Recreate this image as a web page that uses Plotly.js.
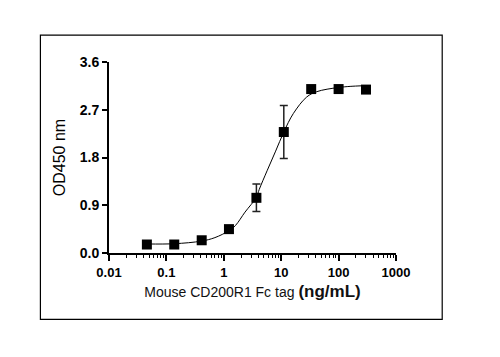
<!DOCTYPE html>
<html>
<head>
<meta charset="utf-8">
<script src="https://cdn.plot.ly/plotly-3.0.1.min.js"></script>
<style>
html,body{margin:0;padding:0;background:#fff;}
#chart{width:500px;height:357px;}
</style>
</head>
<body>
<div id="chart"></div>
<script>
// Measured points (concentration in ng/mL, OD450)
const conc = [0.0457, 0.137, 0.412, 1.23, 3.70, 11.1, 33.3, 100, 300];
const od = [0.16, 0.16, 0.24, 0.45, 1.04, 2.28, 3.09, 3.09, 3.08];
const odErr = [0, 0, 0, 0, 0.26, 0.50, 0, 0, 0];

// Fitted curve
const curveX = [0.0457, 0.137, 0.412, 0.7, 1.23, 1.6, 2.34, 3.7, 4.15, 5.73, 8, 11.1, 16.3, 27.8, 41.5, 100, 236, 300];
const curveY = [0.17, 0.175, 0.225, 0.29, 0.42, 0.52, 0.77, 1.05, 1.2, 1.56, 1.92, 2.28, 2.63, 2.94, 3.04, 3.12, 3.15, 3.15];

const yTicks = [0, 0.9, 1.8, 2.7, 3.6];
const yTickText = ['0.0', '0.9', '1.8', '2.7', '3.6'];
const xTicks = [0.01, 0.1, 1, 10, 100, 1000];
const xTickText = ['0.01', '0.1', '1', '10', '100', '1000'];

const font = 'Liberation Sans, Arial, sans-serif';

const traces = [
  {
    x: curveX, y: curveY, type: 'scatter', mode: 'lines',
    line: {color: '#000', width: 1, shape: 'spline', smoothing: 1},
    hoverinfo: 'skip', showlegend: false
  },
  {
    x: conc, y: od, type: 'scatter', mode: 'markers',
    marker: {symbol: 'square', size: 10, color: '#000'},
    error_y: {type: 'data', array: odErr, visible: true, color: '#222', thickness: 1.5, width: 4},
    showlegend: false
  }
];

const layout = {
  width: 500, height: 357,
  margin: {l: 109, r: 104, t: 62, b: 104},
  paper_bgcolor: '#fff', plot_bgcolor: '#fff',
  font: {family: font, color: '#000'},
  showlegend: false,
  xaxis: {
    type: 'log', range: [-2, 3],
    tickvals: xTicks, ticktext: xTickText,
    ticks: 'outside', ticklen: 6, tickwidth: 2, tickcolor: '#000',
    showline: true, linecolor: '#000', linewidth: 2,
    showgrid: false, zeroline: false,
    tickfont: {family: font, size: 13, color: '#000', weight: 'bold'},
    minor: {ticks: 'outside', ticklen: 3, tickwidth: 1, tickcolor: '#000', dtick: 'D1', showgrid: false},
    title: {
      text: 'Mouse CD200R1 Fc tag <b><span style="font-size:17px">(ng/mL)</span></b>',
      font: {family: font, size: 14, color: '#111'},
      standoff: 9
    }
  },
  yaxis: {
    range: [0, 3.6],
    tickvals: yTicks, ticktext: yTickText,
    ticks: 'outside', ticklen: 5, tickwidth: 2, tickcolor: '#000',
    showline: true, linecolor: '#000', linewidth: 2,
    showgrid: false, zeroline: false,
    tickfont: {family: font, size: 14, color: '#000', weight: 'bold'},
    title: {
      text: 'OD450 nm',
      font: {family: font, size: 16, color: '#000'},
      standoff: 10
    }
  },
  shapes: [{
    type: 'rect', xref: 'paper', yref: 'paper',
    x0: -0.239, x1: 1.161, y0: -0.347, y1: 1.141,
    line: {color: '#000', width: 1.2}, fillcolor: 'rgba(0,0,0,0)', layer: 'below'
  }]
};

Plotly.newPlot('chart', traces, layout, {displayModeBar: false, staticPlot: true});
</script>
</body>
</html>
